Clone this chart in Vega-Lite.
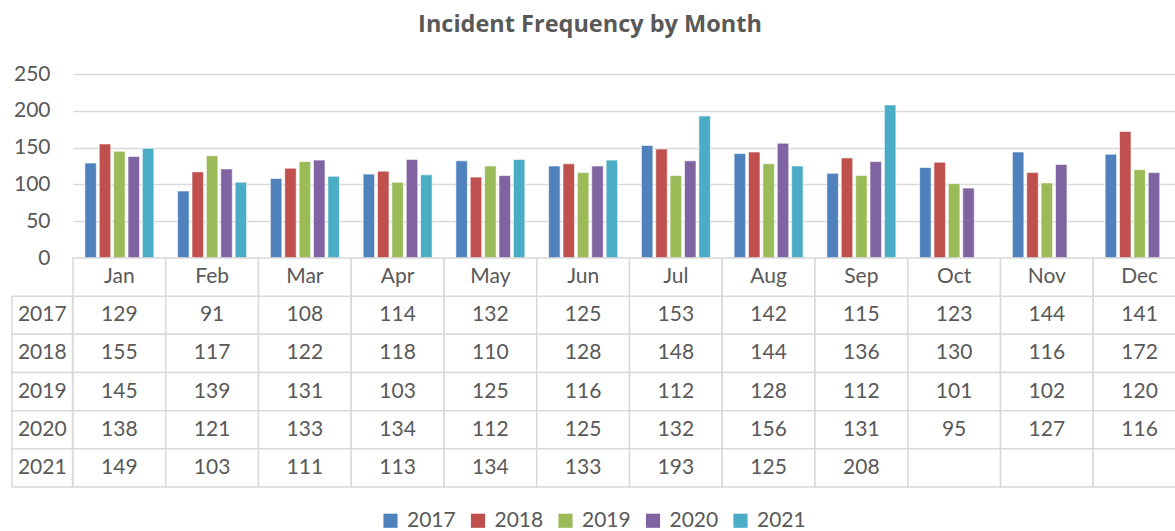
{
  "$schema": "https://vega.github.io/schema/vega-lite/v6.json",
  "background": "white",
  "padding": {"left": 11, "top": 12, "right": 0, "bottom": 0},
  "autosize": {"type": "pad"},
  "title": {"text": "Incident Frequency by Month", "font": "Open Sans", "fontSize": 23.5, "fontWeight": "bold", "color": "#595959", "anchor": "middle", "offset": 27, "dx": -9},
  "config": {"view": {"stroke": null}, "font": "Lato"},
  "datasets": {
    "inc": [
      {"m": "Jan", "y": "2017", "v": 129}, {"m": "Jan", "y": "2018", "v": 155}, {"m": "Jan", "y": "2019", "v": 145}, {"m": "Jan", "y": "2020", "v": 138}, {"m": "Jan", "y": "2021", "v": 149},
      {"m": "Feb", "y": "2017", "v": 91}, {"m": "Feb", "y": "2018", "v": 117}, {"m": "Feb", "y": "2019", "v": 139}, {"m": "Feb", "y": "2020", "v": 121}, {"m": "Feb", "y": "2021", "v": 103},
      {"m": "Mar", "y": "2017", "v": 108}, {"m": "Mar", "y": "2018", "v": 122}, {"m": "Mar", "y": "2019", "v": 131}, {"m": "Mar", "y": "2020", "v": 133}, {"m": "Mar", "y": "2021", "v": 111},
      {"m": "Apr", "y": "2017", "v": 114}, {"m": "Apr", "y": "2018", "v": 118}, {"m": "Apr", "y": "2019", "v": 103}, {"m": "Apr", "y": "2020", "v": 134}, {"m": "Apr", "y": "2021", "v": 113},
      {"m": "May", "y": "2017", "v": 132}, {"m": "May", "y": "2018", "v": 110}, {"m": "May", "y": "2019", "v": 125}, {"m": "May", "y": "2020", "v": 112}, {"m": "May", "y": "2021", "v": 134},
      {"m": "Jun", "y": "2017", "v": 125}, {"m": "Jun", "y": "2018", "v": 128}, {"m": "Jun", "y": "2019", "v": 116}, {"m": "Jun", "y": "2020", "v": 125}, {"m": "Jun", "y": "2021", "v": 133},
      {"m": "Jul", "y": "2017", "v": 153}, {"m": "Jul", "y": "2018", "v": 148}, {"m": "Jul", "y": "2019", "v": 112}, {"m": "Jul", "y": "2020", "v": 132}, {"m": "Jul", "y": "2021", "v": 193},
      {"m": "Aug", "y": "2017", "v": 142}, {"m": "Aug", "y": "2018", "v": 144}, {"m": "Aug", "y": "2019", "v": 128}, {"m": "Aug", "y": "2020", "v": 156}, {"m": "Aug", "y": "2021", "v": 125},
      {"m": "Sep", "y": "2017", "v": 115}, {"m": "Sep", "y": "2018", "v": 136}, {"m": "Sep", "y": "2019", "v": 112}, {"m": "Sep", "y": "2020", "v": 131}, {"m": "Sep", "y": "2021", "v": 208},
      {"m": "Oct", "y": "2017", "v": 123}, {"m": "Oct", "y": "2018", "v": 130}, {"m": "Oct", "y": "2019", "v": 101}, {"m": "Oct", "y": "2020", "v": 95}, {"m": "Oct", "y": "2021", "v": null},
      {"m": "Nov", "y": "2017", "v": 144}, {"m": "Nov", "y": "2018", "v": 116}, {"m": "Nov", "y": "2019", "v": 102}, {"m": "Nov", "y": "2020", "v": 127}, {"m": "Nov", "y": "2021", "v": null},
      {"m": "Dec", "y": "2017", "v": 141}, {"m": "Dec", "y": "2018", "v": 172}, {"m": "Dec", "y": "2019", "v": 120}, {"m": "Dec", "y": "2020", "v": 116}, {"m": "Dec", "y": "2021", "v": null}
    ]
  },
  "columns": 2,
  "spacing": 0,
  "bounds": "flush",
  "resolve": {"scale": {"x": "independent", "y": "independent"}},
  "concat": [
    {
      "width": 60.5,
      "height": 184,
      "data": {"values": []},
      "mark": "point",
      "encoding": {}
    },
    {
      "width": 1113,
      "height": 184,
      "data": {"name": "inc"},
      "transform": [{"filter": "datum.v != null"}],
      "mark": {"type": "bar", "stroke": "white", "strokeWidth": 0.6},
      "encoding": {
        "x": {"field": "m", "type": "nominal", "sort": ["Jan", "Feb", "Mar", "Apr", "May", "Jun", "Jul", "Aug", "Sep", "Oct", "Nov", "Dec"], "scale": {"paddingInner": 0.256, "paddingOuter": 0.128}, "axis": null},
        "xOffset": {"field": "y", "type": "nominal", "scale": {"paddingInner": 0.2, "paddingOuter": 0}},
        "y": {"field": "v", "type": "quantitative", "scale": {"domain": [0, 250], "nice": false},
          "axis": {"values": [0, 50, 100, 150, 200, 250], "title": null, "domain": false, "ticks": false, "gridColor": "#d9d9d9", "gridWidth": 1.5, "labelFontSize": 21, "labelColor": "#595959", "labelPadding": 23, "labelFont": "Lato"}},
        "color": {"field": "y", "type": "nominal", "title": null,
          "scale": {"domain": ["2017", "2018", "2019", "2020", "2021"], "range": ["#4F81BD", "#C0504D", "#9BBB59", "#8064A2", "#4BACC6"]},
          "legend": {"orient": "none", "legendX": 368, "legendY": 436, "padding": 0, "direction": "horizontal", "symbolType": "square", "symbolSize": 200, "symbolStrokeWidth": 0, "labelFontSize": 21, "labelColor": "#595959", "labelFont": "Lato", "columnPadding": 11.5, "labelOffset": 6}}
      }
    },
    {
      "width": 60.5,
      "height": 229,
      "data": {"name": "inc"},
      "transform": [{"aggregate": [{"op": "count", "as": "n"}], "groupby": ["y"]}],
      "encoding": {
        "y": {"field": "y", "type": "ordinal", "scale": {"domain": ["M", "2017", "2018", "2019", "2020", "2021"], "paddingInner": 0, "paddingOuter": 0}, "axis": null}
      },
      "layer": [
        {"mark": {"type": "rect", "fill": "white", "stroke": "#d9d9d9", "strokeWidth": 1.5}},
        {"mark": {"type": "text", "fontSize": 21, "color": "#595959", "font": "Lato"}, "encoding": {"text": {"field": "y", "type": "nominal"}}}
      ]
    },
    {
      "width": 1113,
      "height": 229,
      "data": {"name": "inc"},
      "encoding": {
        "x": {"field": "m", "type": "nominal", "sort": ["Jan", "Feb", "Mar", "Apr", "May", "Jun", "Jul", "Aug", "Sep", "Oct", "Nov", "Dec"], "scale": {"paddingInner": 0, "paddingOuter": 0}, "axis": null}
      },
      "layer": [
        {
          "mark": {"type": "rect", "fill": "white", "stroke": "#d9d9d9", "strokeWidth": 1.5},
          "encoding": {"y": {"field": "y", "type": "ordinal", "scale": {"domain": ["M", "2017", "2018", "2019", "2020", "2021"], "paddingInner": 0, "paddingOuter": 0}, "axis": null}}
        },
        {
          "transform": [{"aggregate": [{"op": "count", "as": "n"}], "groupby": ["m"]}],
          "mark": {"type": "rect", "fill": "white", "stroke": "#d9d9d9", "strokeWidth": 1.5},
          "encoding": {"y": {"datum": "M", "type": "ordinal"}}
        },
        {
          "transform": [{"aggregate": [{"op": "count", "as": "n"}], "groupby": ["m"]}],
          "mark": {"type": "text", "fontSize": 21, "color": "#595959", "font": "Lato"},
          "encoding": {"y": {"datum": "M", "type": "ordinal"}, "text": {"field": "m", "type": "nominal"}}
        },
        {
          "transform": [{"filter": "datum.v != null"}],
          "mark": {"type": "text", "fontSize": 21, "color": "#595959", "font": "Lato"},
          "encoding": {"y": {"field": "y", "type": "ordinal"}, "text": {"field": "v", "type": "quantitative", "format": "d"}}
        }
      ]
    }
  ]
}
